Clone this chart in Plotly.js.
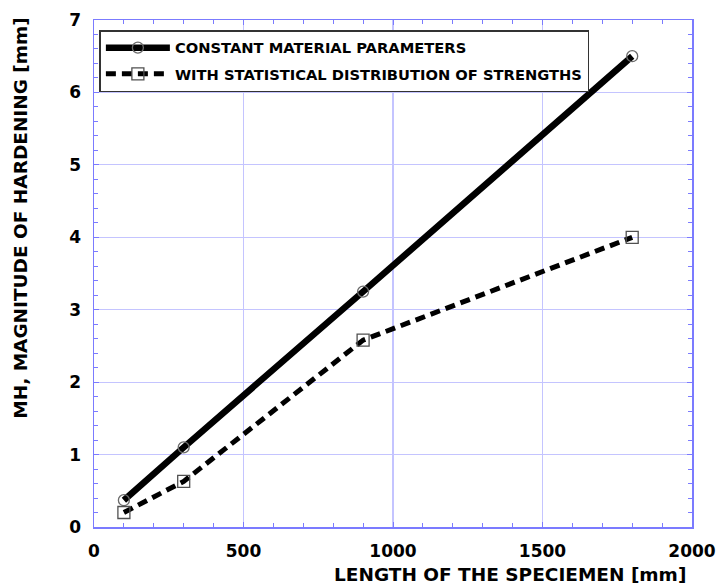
<!DOCTYPE html>
<html><head><meta charset="utf-8">
<script src="https://cdn.plot.ly/plotly-3.0.1.min.js"></script>
<style>html,body{margin:0;padding:0;background:#fff}#c{width:719px;height:586px}</style>
</head><body><div id="c"></div>
<script>
const lengths = [100, 300, 900, 1800];
const constantMH = [0.37, 1.1, 3.25, 6.5];
const statisticalMH = [0.2, 0.63, 2.58, 4.0];
const seriesNames = ["CONSTANT MATERIAL PARAMETERS", "WITH STATISTICAL DISTRIBUTION OF STRENGTHS"];
const xTitle = "LENGTH OF THE SPECIEMEN [mm]";
const yTitle = "MH, MAGNITUDE OF HARDENING [mm]";

const FONT = "DejaVu Sans, Liberation Sans, Arial, sans-serif";
const axisBlue = "#7b7bff";
const gridBlue = "#c4c4ff";

const traces = [
  {x: lengths, y: constantMH, name: seriesNames[0], mode: "lines+markers", legendgroup: "a",
   line: {color: "#000", width: 6.5},
   marker: {symbol: "circle-open", size: 11, color: "#6a6a6a", line: {width: 1.3}}},
  {x: lengths, y: statisticalMH, name: seriesNames[1], mode: "lines+markers", legendgroup: "b",
   line: {color: "#000", width: 5, dash: "10px,6px"},
   marker: {symbol: "square-open", size: 12, color: "#505050", line: {width: 1.3}}}
];

const axisCommon = {
  showline: true, linecolor: axisBlue, linewidth: 1.5, mirror: "ticks",
  ticks: "inside", ticklen: 5, tickcolor: axisBlue, tickwidth: 1,
  showgrid: true, gridcolor: gridBlue, gridwidth: 1.2, zeroline: false,
  tickfont: {family: FONT, size: 17, color: "#000", weight: "bold"}
};

const layout = {
  width: 719, height: 586,
  margin: {l: 94, r: 27, t: 20, b: 59},
  paper_bgcolor: "#fff", plot_bgcolor: "#fff",
  showlegend: true,
  legend: {x: 0.009, y: 0.98, xanchor: "left", yanchor: "top",
    bgcolor: "#fff", bordercolor: "#333", borderwidth: 1.5,
    itemwidth: 64, tracegroupgap: 4,
    font: {family: FONT, size: 14.7, color: "#000", weight: "bold"}},
  xaxis: Object.assign({}, axisCommon, {range: [0, 2000], dtick: 500, tick0: 0, ticklabelstandoff: 8,
    minor: {dtick: 100, ticks: "inside", ticklen: 4, tickcolor: axisBlue, showgrid: false}}),
  yaxis: Object.assign({}, axisCommon, {range: [0, 7], dtick: 1, tick0: 0, ticklabelstandoff: 8,
    minor: {dtick: 0.2, ticks: "inside", ticklen: 4, tickcolor: axisBlue, showgrid: false}}),
  annotations: [
    {text: xTitle, xref: "paper", yref: "paper", x: 0.696, y: -0.094, xanchor: "center", yanchor: "middle",
     showarrow: false, font: {family: FONT, size: 18.5, color: "#000", weight: "bold"}},
    {text: yTitle, xref: "paper", yref: "paper", x: -0.123, y: 0.611, xanchor: "center", yanchor: "middle",
     textangle: -90, showarrow: false, font: {family: FONT, size: 18.5, color: "#000", weight: "bold"}}
  ]
};

Plotly.newPlot("c", traces, layout, {staticPlot: true, displayModeBar: false});
</script></body></html>
